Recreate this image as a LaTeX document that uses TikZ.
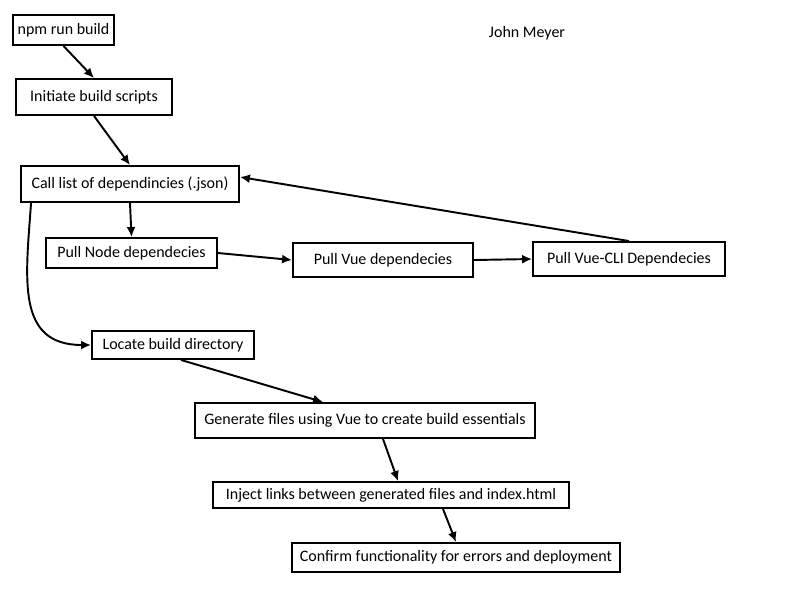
\documentclass[tikz,border=0pt]{standalone}
\usepackage{fontspec}
\setmainfont{Carlito}
\usetikzlibrary{positioning, arrows.meta}

\begin{document}
\begin{tikzpicture}[
        x=0.02cm, y=-0.02cm,
        >={Latex[length=2mm, width=1.8mm]},
        every node/.style={font=\fontsize{9.1}{11}\selectfont},
        box/.style={draw, rectangle, line width=1.1pt, inner sep=2pt, minimum height=0.6cm, align=center},
        link/.style={->, line width=1.1pt}
    ]
    \useasboundingbox (0,0) rectangle (800,600);

    \node[box, minimum width=2.02cm, minimum height=0.6cm] (npm) at (63.5,30) {npm run build};
    \node[box, minimum width=3.12cm, minimum height=0.72cm] (initiate) at (94,97) {Initiate build scripts};
    \node[box, minimum width=4.36cm, minimum height=0.72cm] (calllist) at (130,184) {Call list of dependincies (.json)};

    \node[box, minimum width=3.42cm] (pullnode) at (131.5,253) {Pull Node dependecies};
    \node[box, minimum width=3.6cm, minimum height=0.68cm] (pullvue) at (383,260) {Pull Vue dependecies};
    \node[box, minimum width=3.84cm, minimum height=0.68cm] (pullcli) at (629,259) {Pull Vue-CLI Dependecies};

    \node[box, minimum width=3.24cm, minimum height=0.56cm] (locate) at (173,345) {Locate build directory};
    \node[box, minimum width=6.8cm, minimum height=0.7cm] (generate) at (365,420.5) {Generate files using Vue to create build essentials};
    \node[box, minimum width=7.12cm, minimum height=0.52cm] (inject) at (391,495) {Inject links between generated files and index.html};
    \node[box, minimum width=6.56cm, minimum height=0.58cm] (confirm) at (456,557.5) {Confirm functionality for errors and deployment};

    \node (author) at (527,33) {John Meyer};

    \draw[link] (npm.south) -- (initiate.north);
    \draw[link] (initiate.south) -- (calllist.north);
    \draw[link] (calllist.south) -- (pullnode.north);
    \draw[link] ([xshift=0.22cm]calllist.south west) to[out=-94, in=180, looseness=1.25] (locate.west);

    \draw[link] (pullnode.east) -- (pullvue.west);
    \draw[link] (pullvue.east) -- (pullcli.west);
    \draw[link] (pullcli.north) -- ([yshift=0.14cm]calllist.east);

    \draw[link] ([xshift=0.16cm]locate.south) -- ([xshift=-0.84cm]generate.north);
    \draw[link] ([xshift=0.36cm]generate.south) -- ([xshift=0.14cm]inject.north);
    \draw[link] ([xshift=1.04cm]inject.south) -- (confirm.north);

\end{tikzpicture}
\end{document}
